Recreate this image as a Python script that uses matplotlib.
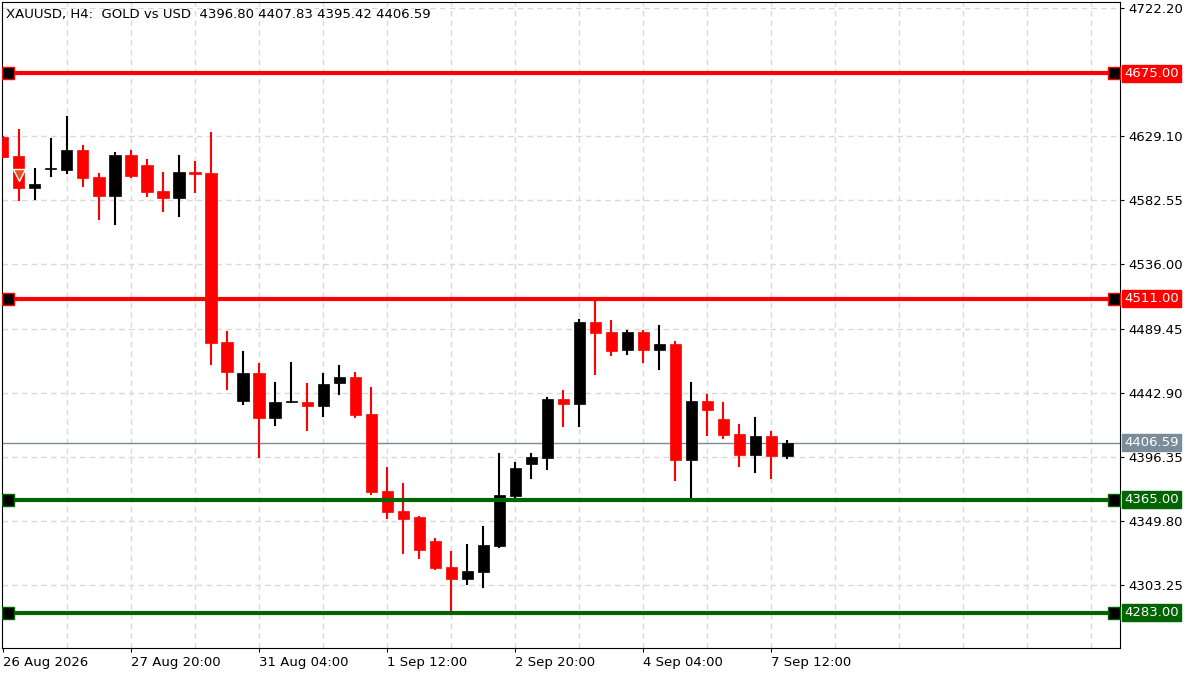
import matplotlib
matplotlib.use("Agg")
import matplotlib.pyplot as plt
from matplotlib.patches import Rectangle

opens  = [4628.5,4614.7,4591.5,4605.3,4604.6,4619.1,4599.5,4585.7,4615.5,4608.2,4589.3,4584.2,4603.1,4602.4,4479.7,4436.8,4457.2,4424.5,4436.1,4436.1,4433.2,4449.9,4454.3,4427.4,4371.5,4357.0,4352.6,4335.2,4316.3,4307.6,4312.7,4331.6,4367.9,4391.1,4395.5,4438.3,4434.7,4494.2,4486.9,4473.9,4486.9,4473.9,4478.2,4394.0,4436.8,4423.8,4412.9,4397.6,4411.4,4396.80]
highs  = [4628.5,4633.6,4605.3,4627.1,4643.1,4622.0,4601.7,4616.9,4618.4,4611.8,4602.4,4614.7,4610.4,4631.4,4486.9,4472.4,4463.7,4449.9,4464.4,4449.2,4456.4,4462.3,4457.2,4446.3,4388.2,4376.6,4352.6,4336.6,4327.2,4332.3,4345.4,4398.4,4391.8,4398.4,4439.0,4444.1,4495.7,4510.2,4494.9,4487.7,4487.7,4491.3,4479.7,4449.9,4441.2,4435.4,4419.4,4424.5,4414.3,4407.83]
lows   = [4614.0,4582.8,4583.5,4600.2,4602.4,4593.0,4569.0,4565.4,4599.5,4585.7,4574.8,4571.2,4588.6,4463.7,4445.6,4434.7,4396.2,4419.4,4436.1,4415.8,4426.0,4441.9,4425.2,4369.3,4351.9,4326.5,4322.8,4314.9,4285.1,4304.0,4301.8,4330.8,4367.1,4380.9,4387.5,4418.7,4418.7,4456.4,4470.2,4471.0,4465.2,4460.1,4379.5,4366.4,4412.2,4410.0,4389.6,4385.3,4380.9,4395.42]
closes = [4614.0,4591.5,4594.4,4605.8,4619.1,4598.8,4585.7,4615.5,4600.2,4588.6,4584.2,4603.1,4601.7,4479.0,4457.9,4457.2,4424.5,4436.1,4436.6,4433.2,4449.2,4454.3,4426.7,4370.8,4356.2,4351.2,4328.6,4315.6,4307.6,4313.4,4332.3,4368.6,4388.2,4396.2,4438.3,4434.7,4494.2,4486.2,4473.1,4486.9,4473.9,4478.2,4394.0,4436.8,4430.3,4412.2,4397.6,4411.4,4396.9,4406.59]

red_levels = [4675.00, 4511.00]
green_levels = [4365.00, 4283.00]
current_price = 4406.59
ytick_vals = [4722.20, 4629.10, 4582.55, 4536.00, 4489.45, 4442.90, 4396.35, 4349.80, 4303.25]
xtick_pos = [0, 8, 16, 24, 32, 40, 48]
xtick_labels = ["26 Aug 2026", "27 Aug 20:00", "31 Aug 04:00", "1 Sep 12:00", "2 Sep 20:00", "4 Sep 04:00", "7 Sep 12:00"]
title = "XAUUSD, H4:  GOLD vs USD  4396.80 4407.83 4395.42 4406.59"

fig = plt.figure(figsize=(12, 6.75), dpi=100)
ax = fig.add_axes([2/1200, 27/675, 1118/1200, 646/675])
ax.set_xlim(-0.06, 69.8)
ax.set_ylim(4257.5, 4726.6)

# grid
for gx in range(4, 70, 4):
    ax.axvline(gx, color="#d9d9d9", ls=(0, (4, 3)), lw=1, zorder=0)
for gy in ytick_vals + [4675.65]:
    ax.axhline(gy, color="#d9d9d9", ls=(0, (4, 3)), lw=1, zorder=0)

w = 0.69
for i, (o, h, l, c) in enumerate(zip(opens, highs, lows, closes)):
    col = "#ff0000" if c < o else "#000000"
    ax.plot([i, i], [l, h], color=col, lw=1.5, zorder=2)
    bot = min(o, c); ht = max(abs(c - o), 0.6)
    ax.add_patch(Rectangle((i - w/2, bot), w, ht, facecolor=col, edgecolor=col, lw=0.5, zorder=3))

ax.plot([1], [4601], marker="v", color="#e8501e", markersize=9, markeredgecolor="white", zorder=4)

ax.axhline(current_price, color="#7a8b99", lw=1, zorder=1)

ytr = ax.get_yaxis_transform()
for lv in red_levels + green_levels:
    col = "#ff0000" if lv in red_levels else "#006400"
    ax.plot([0.3, 69.4], [lv, lv], color=col, lw=3, zorder=5)
    for xx in (0.3, 69.4):
        ax.plot([xx], [lv], marker="s", color="black", markeredgecolor=col, markersize=8, zorder=6)
    ax.text(1.004, lv, f"{lv:.2f}", transform=ytr, va="center", ha="left", fontsize=9.5, color="white",
            bbox=dict(boxstyle="square,pad=0.15", facecolor=col, edgecolor=col), clip_on=False)
ax.text(1.004, current_price, f"{current_price:.2f}", transform=ytr, va="center", ha="left", fontsize=9.5,
        color="white", bbox=dict(boxstyle="square,pad=0.15", facecolor="#7a8b99", edgecolor="#7a8b99"), clip_on=False)

ax.yaxis.tick_right()
ax.set_yticks(ytick_vals)
ax.set_yticklabels([f"{v:.2f}" for v in ytick_vals], fontsize=9.5)
ax.tick_params(axis="y", length=3, pad=3)
ax.set_xticks(xtick_pos)
ax.set_xticklabels(xtick_labels, fontsize=9.5, ha="left")
ax.tick_params(axis="x", length=3, pad=3)
for s in ax.spines.values():
    s.set_color("black")

ax.text(0.004, 0.99, title, transform=ax.transAxes, va="top", ha="left", fontsize=9.5)

fig.savefig("out.png", dpi=100)
